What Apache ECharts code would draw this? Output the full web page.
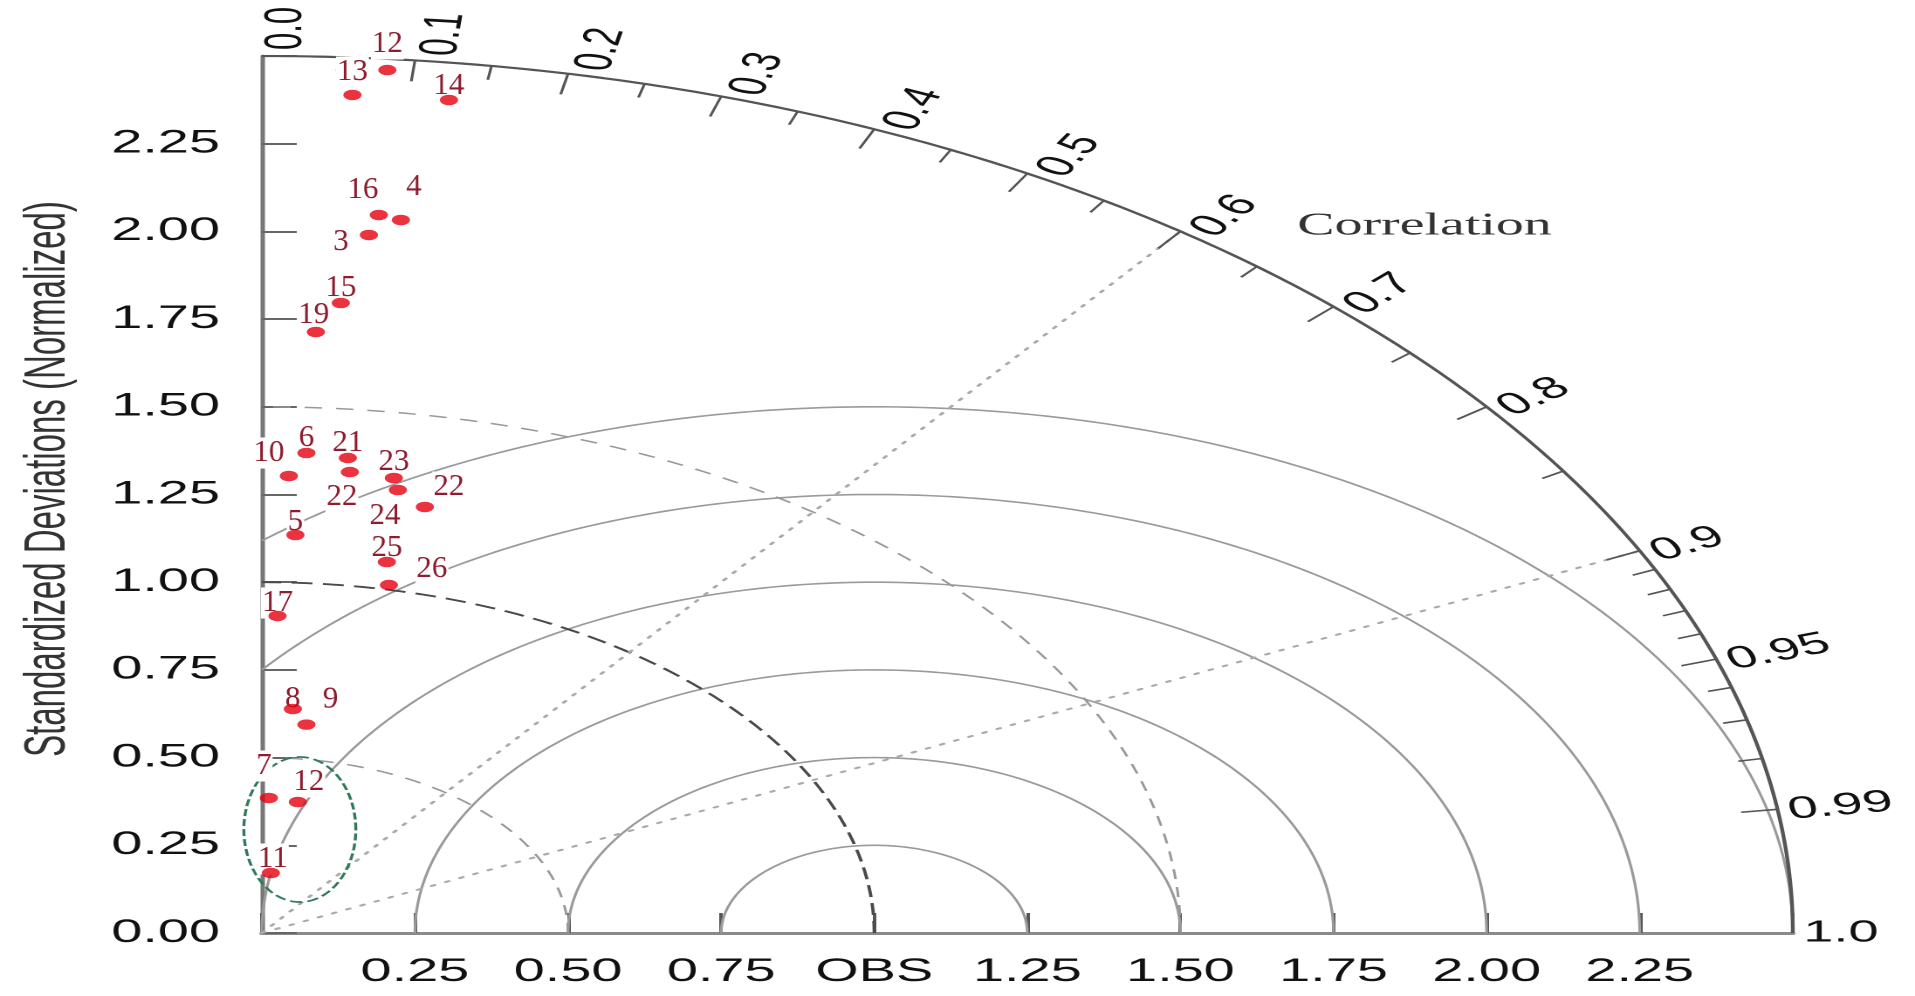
<!DOCTYPE html>
<html><head><meta charset="utf-8">
<script src="https://cdn.jsdelivr.net/npm/echarts@6/dist/echarts.min.js"></script>
<style>
html,body{margin:0;padding:0;background:#fff;overflow:hidden;width:1915px;height:996px;}
#chart{position:absolute;left:0;top:0;width:1097px;height:996px;transform:scaleX(1.745670);transform-origin:0 0;}
</style></head><body><div id="chart"></div>
<script>
// ---------- data ----------
const pointLabels = ['12','13','14','16','4','3','15','19','10','6','21','22','23','24','22','5','25','26','17','8','9','7','12','11'];
const pointStd  = [2.4685,2.3935,2.3942,2.0557,2.0451,1.9974,1.8005,1.7155,1.3035,1.3702,1.3614,1.3219,1.3148,1.2822,1.2432,1.1359,1.0771,1.0134,0.9041,0.6405,0.5985,0.3850,0.3780,0.1716];
const pointCorr = [0.0830,0.0618,0.1276,0.0929,0.1110,0.0875,0.0716,0.0514,0.0338,0.0531,0.1031,0.1087,0.1639,0.1732,0.2141,0.0482,0.1895,0.2047,0.0282,0.0790,0.1216,0.0296,0.1555,0.0857];

const xTickLabels = ['', '0.25','0.50','0.75','OBS','1.25','1.50','1.75','2.00','2.25',''];
const yTickLabels = ['0.00','0.25','0.50','0.75','1.00','1.25','1.50','1.75','2.00','2.25',''];
const corrLabelValues = [0,0.1,0.2,0.3,0.4,0.5,0.6,0.7,0.8,0.9,0.95,0.99,1.0];
const corrLabelTexts  = ['0.0','0.1','0.2','0.3','0.4','0.5','0.6','0.7','0.8','0.9','0.95','0.99','1.0'];
const corrMajorTicks = [0.1,0.2,0.3,0.4,0.5,0.6,0.7,0.8,0.9,0.95,0.99];
const corrMinorTicks = [0.05,0.15,0.25,0.35,0.45,0.55,0.65,0.75,0.85,0.91,0.92,0.93,0.94,0.96,0.97,0.98];
const rmsLevels = [0.25,0.5,0.75,1.0,1.25,1.5];
const stdLevels = [0.5,1.0,1.5];
const corrRays = [0.6,0.9];
const maxStd = 2.5;
const obsStd = 1.0;
const highlight = [0.062, 0.295, 0.0914, 0.2067]; // centre x, centre y, radius x, radius y (data units)
const yTitle = 'Standardized Deviations (Normalized)';
const corrTitle = 'Correlation';

// ---------- layout (label offsets in screen px, not data) ----------
const K = 1915/1097;
const labelOffset = [[0,-26],[0,-23],[0,-14],[-16,-25],[13,-33],[-28,7],[0,-15],[-2,-17],[-20,-23],[0,-15],[0,-15],[-8,25],[0,-16],[-13,26],[24,-20],[0,-13],[0,-14],[43,-16],[0,-13],[0,-10],[24,-25],[-5,-32],[11,-20],[2,-14]];

function polar(s, c){ const t = Math.acos(c); return [s*Math.cos(t), s*Math.sin(t)]; }
function circlePts(cx, cy, r, t0, t1, n){
  const out=[]; for(let i=0;i<=n;i++){ const t=t0+(t1-t0)*i/n; out.push([cx+r*Math.cos(t), cy+r*Math.sin(t)]); } return out;
}

const series = [];
// RMS difference arcs around OBS
rmsLevels.forEach(r=>{
  const tEnd = r>obsStd ? Math.acos(-obsStd/r) : Math.PI;
  series.push({type:'line', data:circlePts(obsStd,0,r,0,tEnd,240), showSymbol:false, symbol:'none', silent:true, z:2,
    lineStyle:{color:'#9a9a9a', width:1.6}});
});
// standard deviation arcs
stdLevels.forEach(s=>{
  series.push({type:'line', data:circlePts(0,0,s,0,Math.PI/2,200), showSymbol:false, symbol:'none', silent:true, z:2,
    lineStyle:{color: s===obsStd ? '#4a4a4a' : '#999999', width: s===obsStd?1.9:1.5, type: s===obsStd?[12,6]:[10,8]}});
});
// dotted correlation rays
corrRays.forEach(c=>{
  series.push({type:'line', data:[[0,0], polar(maxStd,c)], showSymbol:false, symbol:'none', silent:true, z:2,
    lineStyle:{color:'#aaaaaa', width:2, type:[2,7], cap:'round'}});
});
// outer ring
series.push({type:'line', data:circlePts(0,0,maxStd,0,Math.PI/2,300), showSymbol:false, symbol:'none', silent:true, z:3,
  lineStyle:{color:'#555', width:2.2}});
// correlation ticks
function tickSeries(vals, len){
  return {type:'custom', silent:true, z:3, data: vals.map(v=>[v]),
    renderItem:function(params, api){
      const c = api.value(0);
      const p1 = api.coord(polar(maxStd, c));
      const p2 = api.coord(polar(maxStd-len, c));
      return {type:'line', shape:{x1:p1[0],y1:p1[1],x2:p2[0],y2:p2[1]}, style:{stroke:'#555', lineWidth:1.6}};
    }};
}
series.push(tickSeries(corrMajorTicks, 0.06));
series.push(tickSeries(corrMinorTicks, 0.04));
// correlation labels
series.push({type:'custom', silent:true, z:3, clip:false, data: corrLabelValues.map((v,i)=>[v,i]),
  renderItem:function(params, api){
    const c = api.value(0), i = api.value(1);
    const t = Math.acos(c);
    const p = api.coord(polar(maxStd, c));
    const gap = 6, down = 14*Math.sin(t);
    const x = p[0] + gap*Math.cos(t) + down*Math.sin(t);
    const y = p[1] - gap*Math.sin(t) + down*Math.cos(t);
    return {type:'text', x:x, y:y, rotation:t,
      style:{text:corrLabelTexts[i], fill:'#111', font:'31px "Liberation Sans", Arial, sans-serif',
        align:'left', verticalAlign:'middle', textAlign:'left', textVerticalAlign:'middle'}};
  }});
// highlight ellipse (custom series, not clipped to the grid)
series.push({type:'custom', silent:true, z:4, clip:false, data:[highlight],
  renderItem:function(params, api){
    const cx = api.value(0), cy = api.value(1), rx = api.value(2), ry = api.value(3);
    const pts = [];
    for(let i=0;i<=160;i++){ const t=2*Math.PI*i/160; pts.push(api.coord([cx+rx*Math.cos(t), cy+ry*Math.sin(t)])); }
    return {type:'polyline', shape:{points:pts}, style:{stroke:'#2f7a58', lineWidth:1.7, lineDash:[7,3], fill:null}};
  }});
// point labels (kept unstretched)
series.push({type:'custom', silent:true, z:5, clip:false,
  data: pointStd.map((s,i)=>polar(s,pointCorr[i]).concat([i])),
  renderItem:function(params, api){
    const p = api.coord([api.value(0), api.value(1)]);
    const i = api.value(2);
    const off = labelOffset[i];
    return {type:'text', x:p[0]+off[0]/K, y:p[1]+off[1], scaleX:1/K,
      style:{text:pointLabels[i], fill:'#8e1b2e', font:'31px "Liberation Serif", "Times New Roman", serif',
        align:'center', verticalAlign:'middle', textAlign:'center', textVerticalAlign:'middle',
        backgroundColor:'#ffffff', padding:[0,1,0,1]}};
  }});
// points
series.push({type:'scatter', z:6, silent:true, symbol:'circle', symbolSize:10.5,
  data: pointStd.map((s,i)=>polar(s,pointCorr[i])),
  itemStyle:{color:'#e6000f'}});

const chart = echarts.init(document.getElementById('chart'), null, {renderer:'canvas', devicePixelRatio:2});
chart.setOption({
  animation:false,
  backgroundColor:'#ffffff',
  grid:{left:150, top:56, width:877, height:877},
  xAxis:{type:'value', min:0, max:maxStd, interval:0.25,
    axisLine:{show:true, lineStyle:{color:'#8a8a8a', width:3}},
    axisTick:{show:true, inside:true, length:20, lineStyle:{color:'#555', width:2}},
    splitLine:{show:false},
    axisLabel:{show:true, margin:23, color:'#111', fontSize:32, fontFamily:'Liberation Sans',
      showMinLabel:true, showMaxLabel:true,
      formatter:function(v){ return xTickLabels[Math.round(v/0.25)] || ''; }}},
  yAxis:{type:'value', min:0, max:maxStd, interval:0.25,
    axisLine:{show:true, lineStyle:{color:'#777', width:2.5}},
    axisTick:{show:true, inside:true, length:20, lineStyle:{color:'#666', width:2}},
    splitLine:{show:false},
    axisLabel:{show:true, margin:24, color:'#111', fontSize:32, fontFamily:'Liberation Sans',
      showMinLabel:true, showMaxLabel:true,
      formatter:function(v){ return yTickLabels[Math.round(v/0.25)] || ''; }}},
  graphic:[
    {type:'text', x:28, y:479, rotation:Math.PI/2, silent:true,
      style:{text:yTitle, fill:'#333', font:'33px "Liberation Sans", Arial, sans-serif', align:'center', verticalAlign:'middle', textAlign:'center', textVerticalAlign:'middle'}},
    {type:'text', x:816, y:226, silent:true,
      style:{text:corrTitle, fill:'#333', font:'32px "Liberation Serif", "Times New Roman", serif', align:'center', verticalAlign:'middle', textAlign:'center', textVerticalAlign:'middle'}}
  ],
  series:series
});
</script></body></html>
